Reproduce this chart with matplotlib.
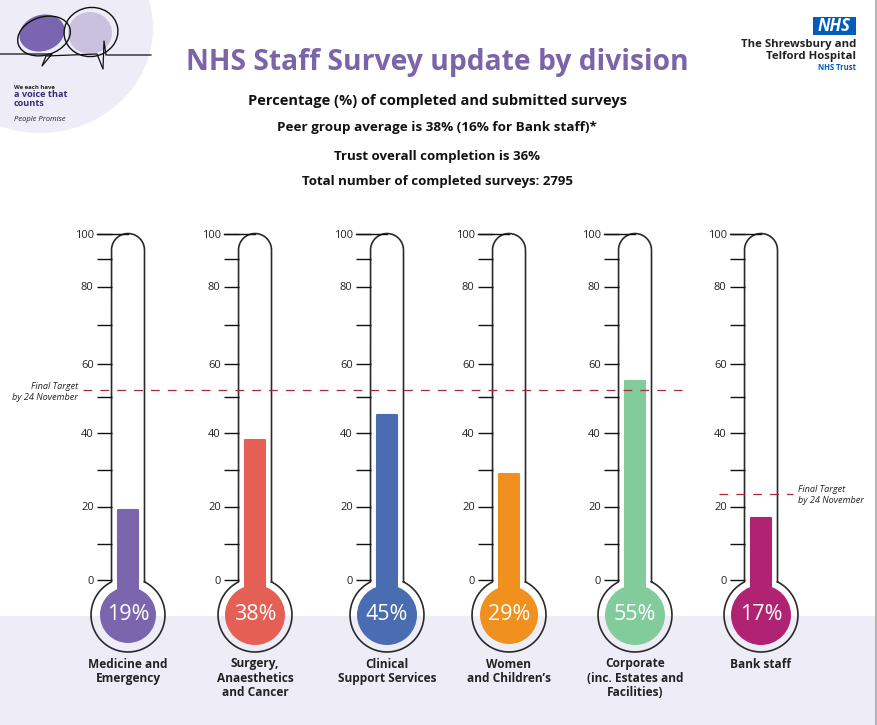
import numpy as np
import matplotlib
matplotlib.use('Agg')
import matplotlib.pyplot as plt
from matplotlib.patches import Ellipse, Rectangle, Circle

plt.rcParams['font.family'] = ['Open Sans', 'DejaVu Sans']

# --- Data ---
divisions = ['Medicine and\nEmergency', 'Surgery,\nAnaesthetics\nand Cancer', 'Clinical\nSupport Services',
             'Women\nand Children’s', 'Corporate\n(inc. Estates and\nFacilities)', 'Bank staff']
completion = [19, 38, 45, 29, 55, 17]
colours = ['#7b66ae', '#e65f55', '#4a6cb0', '#f0901e', '#82cc9b', '#b02372']
target_main = 52
target_bank = 23.5

# the printed scale is not evenly spaced, so tick values map onto measured heights
scale_values = [0, 10, 20, 30, 40, 50, 60, 70, 80, 90, 100]
scale_heights = [0, 36, 73.5, 110, 147, 183, 216, 255, 293.5, 321, 346.5]
tick_labels = ['0', '', '20', '', '40', '', '60', '', '80', '', '100']

W, H = 877, 725
CENTRES = [128, 255, 387, 509, 635, 761]
BULB_FILL = [28, 30, 30, 29, 30, 30]
TOP, ZERO = 233.5, 580
HALF = 16.5
BULB_Y, BULB_R = 615, 37
LILAC = '#eeedf7'
PURPLE = '#7b64a8'
NHS_BLUE = '#005eb8'


def forward(v):
    return np.interp(v, scale_values, scale_heights)


def inverse(h):
    return np.interp(h, scale_heights, scale_values)


def scale_axes(x0, x1, **kw):
    # axes placed in pixels, y running 0-100 on the thermometer scale
    ax = fig.add_axes([x0 / W, 1 - ZERO / H, (x1 - x0) / W, (ZERO - TOP) / H], **kw)
    ax.set_yscale('function', functions=(forward, inverse))
    ax.set_ylim(0, 100)
    ax.set_xlim(x0, x1)
    ax.patch.set_alpha(0)
    for s in ax.spines.values():
        s.set_visible(False)
    return ax


fig = plt.figure(figsize=(W / 100, H / 100), dpi=100)

# page layer in pixel coordinates
bg = fig.add_axes([0, 0, 1, 1])
bg.set_xlim(0, W)
bg.set_ylim(H, 0)
bg.axis('off')

bg.add_patch(Rectangle((0, 616), W, 109, color=LILAC, lw=0))
bg.add_patch(Rectangle((875, 0), 2, H, color='#b5b5b5', lw=0))

# People Promise badge
bg.add_patch(Ellipse((40, 28), 226, 210, color=LILAC, lw=0))
bg.add_patch(Ellipse((42, 33), 46, 36, angle=-18, color='#7a65b0', lw=0))
bg.add_patch(Ellipse((90, 33), 44, 42, color='#c9c1de', lw=0))
bg.add_patch(Ellipse((44, 36), 54, 38, angle=-18, fill=False, ec='#111111', lw=1))
bg.add_patch(Ellipse((91, 32), 54, 49, angle=-10, fill=False, ec='#111111', lw=1))
bg.plot([0, 42, 52, 42, 46, 97, 103, 104, 106, 151], [54, 54, 54, 66, 56, 54, 69, 41, 55, 55], color='#111111', lw=0.9)
bg.text(14, 87, 'We each have', fontsize=4.3, fontweight='bold', color='#222222', va='center')
bg.text(14, 94.5, 'a voice that', fontsize=6.6, fontweight='bold', color='#3b2a7a', va='center')
bg.text(14, 103.5, 'counts', fontsize=6.6, fontweight='bold', color='#3b2a7a', va='center')
bg.text(14, 119, 'People Promise', fontsize=5.5, style='italic', color='#222222', va='center')

# NHS logo
bg.add_patch(Rectangle((813, 17), 43, 18, color=NHS_BLUE, lw=0))
bg.text(834.5, 26, 'NHS', color='white', fontsize=12, fontweight='bold', style='italic', ha='center', va='center')
bg.text(856, 44.5, 'The Shrewsbury and', fontsize=8.2, fontweight='bold', color='#222222', ha='right', va='center')
bg.text(856, 56, 'Telford Hospital', fontsize=8.2, fontweight='bold', color='#222222', ha='right', va='center')
bg.text(856, 67, 'NHS Trust', fontsize=5.5, fontweight='bold', color=NHS_BLUE, ha='right', va='center')

# Titles
bg.text(437, 62, 'NHS Staff Survey update by division', fontsize=20.3, fontweight='bold', color=PURPLE, ha='center', va='center')
bg.text(437, 101, 'Percentage (%) of completed and submitted surveys', fontsize=10.5, fontweight='bold', color='#111111', ha='center', va='center')
bg.text(437, 127, 'Peer group average is 38% (16% for Bank staff)*', fontsize=9.7, fontweight='bold', color='#111111', ha='center', va='center')
bg.text(437, 156, 'Trust overall completion is 36%', fontsize=9.5, fontweight='bold', color='#111111', ha='center', va='center')
bg.text(437, 181, 'Total number of completed surveys: 2795', fontsize=9.5, fontweight='bold', color='#111111', ha='center', va='center')

# Thermometers
for cx, name, pct, col, fill_r in zip(CENTRES, divisions, completion, colours, BULB_FILL):
    ax = scale_axes(cx - HALF, cx + HALF)
    ax.bar(cx, pct, width=20, color=col, edgecolor=col, linewidth=1.5, joinstyle='round', zorder=2)
    ax.set_xticks([])
    ax.set_yticks(scale_values)
    ax.set_yticklabels(tick_labels, fontsize=8)
    ax.tick_params(axis='y', length=10.8, width=1, color='#111111', pad=2, labelcolor='#222222')
    ax.minorticks_off()

    # tube and bulb outline as one line
    neck = BULB_Y - np.sqrt(BULB_R ** 2 - HALF ** 2)
    top = np.linspace(np.pi, 0, 40)
    ang = np.linspace(np.arcsin(HALF / BULB_R), 2 * np.pi - np.arcsin(HALF / BULB_R), 100)
    xs = np.concatenate([cx + BULB_R * np.sin(ang), cx + HALF * np.cos(top), [cx + HALF]])
    ys = np.concatenate([BULB_Y - BULB_R * np.cos(ang), TOP + HALF - HALF * np.sin(top), [neck]])
    bg.plot(xs, ys, color='#2a2a2a', lw=1.2, zorder=3)
    bg.plot([cx - 31, cx], [TOP, TOP], color='#111111', lw=1, zorder=3)

    # coloured bulb, joined to the bar by the neck
    bg.add_patch(Rectangle((cx - 10.75, 575), 21.5, 20, color=col, lw=0, zorder=6))
    bg.add_patch(Circle((cx, BULB_Y), fill_r, color=col, lw=0, zorder=6))
    bg.text(cx, BULB_Y - 1, f'{pct}%', color='white', fontsize=15.5, ha='center', va='center', zorder=7)
    for i, line in enumerate(name.split('\n')):
        bg.text(cx, 664 + i * 14.5, line, fontsize=8.6, fontweight='bold', color='#222222', ha='center', va='center')

# Target lines on the same scale
over = scale_axes(0, W, zorder=10)
over.set_xticks([])
over.set_yticks([])
over.minorticks_off()
over.plot([83, 682], [target_main, target_main], color='#a8283c', lw=0.9, dashes=(7, 6.5))
over.plot([719, 793], [target_bank, target_bank], color='#a8283c', lw=0.9, dashes=(7, 6.5))
for x, y, ha in [(78, 386, 'right'), (798, 489, 'left')]:
    bg.text(x, y, 'Final Target', fontsize=6.6, style='italic', color='#222222', ha=ha, va='center')
    bg.text(x, y + 11, 'by 24 November', fontsize=6.6, style='italic', color='#222222', ha=ha, va='center')

fig.savefig('out.png', dpi=100)
